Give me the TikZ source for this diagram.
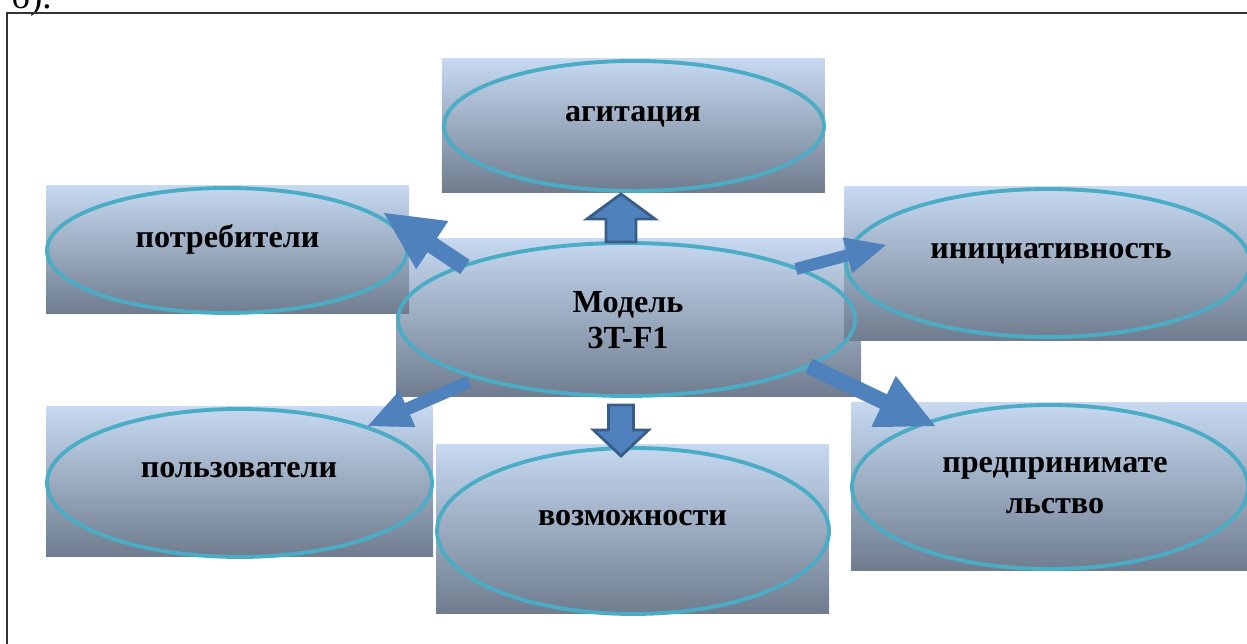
\documentclass[tikz,border=0pt]{standalone}
\usepackage{fontspec}
\setmainfont{Liberation Serif}
\usetikzlibrary{shapes.geometric,calc}
\definecolor{gTop}{RGB}{198,217,241}
\definecolor{gMid}{RGB}{168,186,211}
\definecolor{gBot}{RGB}{111,124,142}
\definecolor{ringc}{RGB}{75,172,198}
\definecolor{arrowc}{RGB}{79,129,189}
\definecolor{arrowd}{RGB}{56,93,138}
\newcommand\blockarr[6]{%
  \coordinate (ba) at ($(#3)!#6!(#2)$);
  \path[#1] ($(#2)!#4!90:(#3)$) -- ($(ba)!#4!90:(#3)$) -- ($(ba)!#5!90:(#3)$) -- (#3)
    -- ($(ba)!#5!-90:(#3)$) -- ($(ba)!#4!-90:(#3)$) -- ($(#2)!#4!-90:(#3)$) -- cycle;}
\begin{document}
\begin{tikzpicture}[x=0.02cm,y=-0.02cm,
  bg/.style={rectangle,inner sep=0,outer sep=0,draw=none,top color=gTop,middle color=gMid,bottom color=gBot},
  ring/.style={ellipse,draw=ringc,line width=2.2pt,inner sep=0,outer sep=0},
  lbl/.style={font=\bfseries\fontsize{18.3}{21}\selectfont,align=center,inner sep=0,anchor=base},
  barrow/.style={fill=arrowc,draw=none},
  barrowo/.style={fill=arrowc,draw=arrowd,line width=1.6pt,line join=miter}]
\useasboundingbox (0,0) rectangle (1247,644);
% caption fragment and frame
\node[anchor=base west,inner sep=0,font=\fontsize{21}{24}\selectfont] (cap) at (11,9) {б).};
\draw[line width=1.2pt,black!80] (7,700) -- (7,13) -- (1300,13);
% background rectangles
\node[bg,minimum width=383*0.02cm,minimum height=134*0.02cm] (agR) at (633.4,125.9) {};
\node[bg,minimum width=465*0.02cm,minimum height=158*0.02cm] (cenR) at (628.5,318) {};
\node[bg,minimum width=363*0.02cm,minimum height=128*0.02cm] (potR) at (227.5,250) {};
\node[bg,minimum width=387*0.02cm,minimum height=150*0.02cm] (polR) at (239.5,482) {};
\node[bg,minimum width=393*0.02cm,minimum height=169*0.02cm] (vozR) at (632.5,529.5) {};
\node[bg,minimum width=408*0.02cm,minimum height=154*0.02cm] (iniR) at (1048,264) {};
\node[bg,minimum width=402*0.02cm,minimum height=168*0.02cm] (preR) at (1052,487) {};
% ellipses
\node[ring,minimum width=380*0.02cm,minimum height=130*0.02cm] (ag) at (634,126) {};
\node[ring,minimum width=457*0.02cm,minimum height=153*0.02cm] (cen) at (626.5,319.5) {};
\node[ring,minimum width=360*0.02cm,minimum height=125*0.02cm] (pot) at (227,250.5) {};
\node[ring,minimum width=385*0.02cm,minimum height=148*0.02cm] (pol) at (239.5,483) {};
\node[ring,minimum width=392*0.02cm,minimum height=166*0.02cm] (voz) at (633,531) {};
\node[ring,minimum width=404*0.02cm,minimum height=148*0.02cm] (ini) at (1048,263) {};
\node[ring,minimum width=396*0.02cm,minimum height=164*0.02cm] (pre) at (1050,487) {};
% labels
\node[lbl] (agT) at (633,122) {агитация};
\node[lbl] (cenT) at (628,349) {Модель\\3T-F1};
\node[lbl] (potT) at (227.5,248) {потребители};
\node[lbl] (polT) at (239,478) {пользователи};
\node[lbl] (vozT) at (632.5,526) {возможности};
\node[lbl] (iniT) at (1051,259) {инициативность};
\node[lbl,font=\bfseries\fontsize{18.3}{23.8}\selectfont] (preT) at (1055,514) {предпринимате\\льство};
% arrow anchor points
\coordinate (a1s) at (621,242); \coordinate (a1t) at (621,194);
\coordinate (a2s) at (621,405); \coordinate (a2t) at (621,456);
\coordinate (a3s) at (465,267); \coordinate (a3t) at (384,213);
\coordinate (a4s) at (796,269); \coordinate (a4t) at (886,245);
\coordinate (a5s) at (469,382); \coordinate (a5t) at (368,426);
\coordinate (a6s) at (809,366); \coordinate (a6t) at (935,426);
% block arrows
\blockarr{barrowo}{a1s}{a1t}{0.30cm}{0.68cm}{0.50cm}
\blockarr{barrowo}{a2s}{a2t}{0.25cm}{0.55cm}{0.52cm}
\blockarr{barrow}{a3s}{a3t}{0.17cm}{0.58cm}{1.16cm}
\blockarr{barrow}{a4s}{a4t}{0.12cm}{0.37cm}{0.80cm}
\blockarr{barrow}{a5s}{a5t}{0.126cm}{0.40cm}{0.86cm}
\blockarr{barrow}{a6s}{a6t}{0.16cm}{0.568cm}{1.14cm}
\end{tikzpicture}
\end{document}
